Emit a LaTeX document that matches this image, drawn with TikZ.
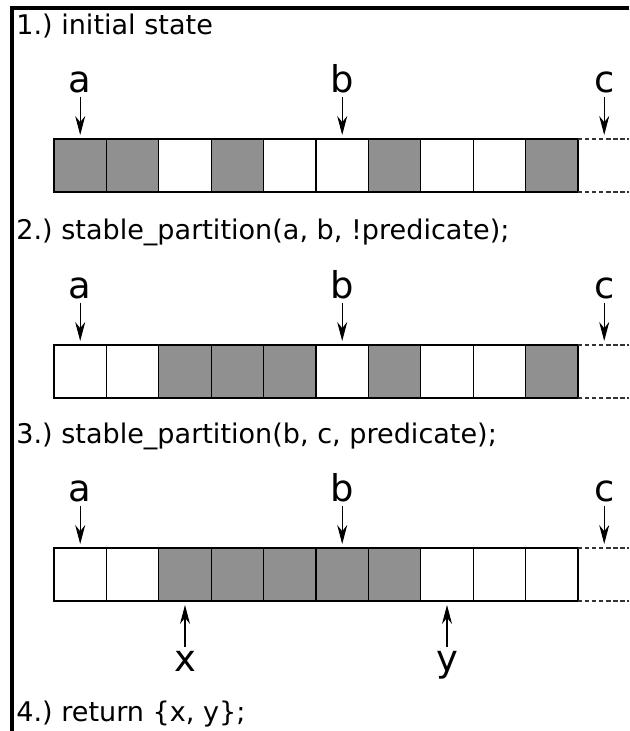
\documentclass[tikz,border=0pt]{standalone}
\usepackage{fontspec}
\setmainfont{DejaVu Sans}
\usetikzlibrary{positioning,arrows.meta,calc}
\definecolor{cellgray}{RGB}{144,144,144}
\frenchspacing
\tikzset{
cell/.style={rectangle,draw,line width=0.6pt,minimum width=1.048cm,minimum height=1.06cm,inner sep=0pt,outer sep=0pt},
full/.style={cell,fill=cellgray},
empty/.style={cell,fill=white},
title/.style={anchor=base west,inner sep=0pt,font=\fontsize{15.4}{18}\selectfont},
ptr/.style={inner sep=0pt,font=\fontsize{21}{24}\selectfont},
pto/.style={-{Stealth[length=0.38cm,width=0.2cm]},line width=0.6pt,shorten >=0.08cm,shorten <=0.08cm},
open/.style={line width=0.6pt,draw=black!80,dash pattern=on 2.5pt off 1.5pt},
frame/.style={line width=1.9pt},
}
\begin{document}
\begin{tikzpicture}
\useasboundingbox (0,0) rectangle (12.58,-14.62);
\draw[frame] (12.58,-0.16) -- (0.24,-0.16) -- (0.24,-14.62);

% step titles
\node[title] (t1) at (0.32,-0.70) {1.) initial state};
\node[title] (t2) at (0.32,-4.80) {2.) stable\_partition(a, b, !predicate);};
\node[title] (t3) at (0.32,-8.86) {3.) stable\_partition(b, c, predicate);};
\node[title] (t4) at (0.32,-14.42) {4.) return \{x, y\};};

% cells
\foreach \f [count=\i] in {full,full,empty,full,empty,empty,full,empty,empty,full}
  \node[\f] (r1c\i) at ({1.604+1.048*(\i-1)},-3.31) {};
\foreach \f [count=\i] in {empty,empty,full,full,full,empty,full,empty,empty,full}
  \node[\f] (r2c\i) at ({1.604+1.048*(\i-1)},-7.43) {};
\foreach \f [count=\i] in {empty,empty,full,full,full,full,full,empty,empty,empty}
  \node[\f] (r3c\i) at ({1.604+1.048*(\i-1)},-11.49) {};

% open end past the last cell
\foreach \r in {1,2,3} {
  \coordinate (r\r c11) at ($(r\r c10.north)+(1.048,0)$);
  \coordinate (r\r end) at (12.58,0);
  \draw[open] (r\r c10.north east) -- (r\r c10.north east -| r\r end);
  \draw[open] (r\r c10.south east) -- (r\r c10.south east -| r\r end);
}

% iterators
\node[ptr,above=0.92cm of r1c1] (a1) {a};
\node[ptr,above=0.92cm of r1c6] (b1) {b};
\node[ptr,above=0.92cm of r1c11] (c1) {c};
\node[ptr,above=0.92cm of r2c1] (a2) {a};
\node[ptr,above=0.92cm of r2c6] (b2) {b};
\node[ptr,above=0.92cm of r2c11] (c2) {c};
\node[ptr,above=0.92cm of r3c1] (a3) {a};
\node[ptr,above=0.92cm of r3c6] (b3) {b};
\node[ptr,above=0.92cm of r3c11] (c3) {c};
\node[ptr,below=1.0cm of r3c3] (x) {x};
\node[ptr,below=1.0cm of r3c8] (y) {y};

\path[pto]
(a1) edge (r1c1) (b1) edge (r1c6) (c1) edge (r1c11)
(a2) edge (r2c1) (b2) edge (r2c6) (c2) edge (r2c11)
(a3) edge (r3c1) (b3) edge (r3c6) (c3) edge (r3c11)
(x) edge (r3c3) (y) edge (r3c8)
;
\end{tikzpicture}
\end{document}
